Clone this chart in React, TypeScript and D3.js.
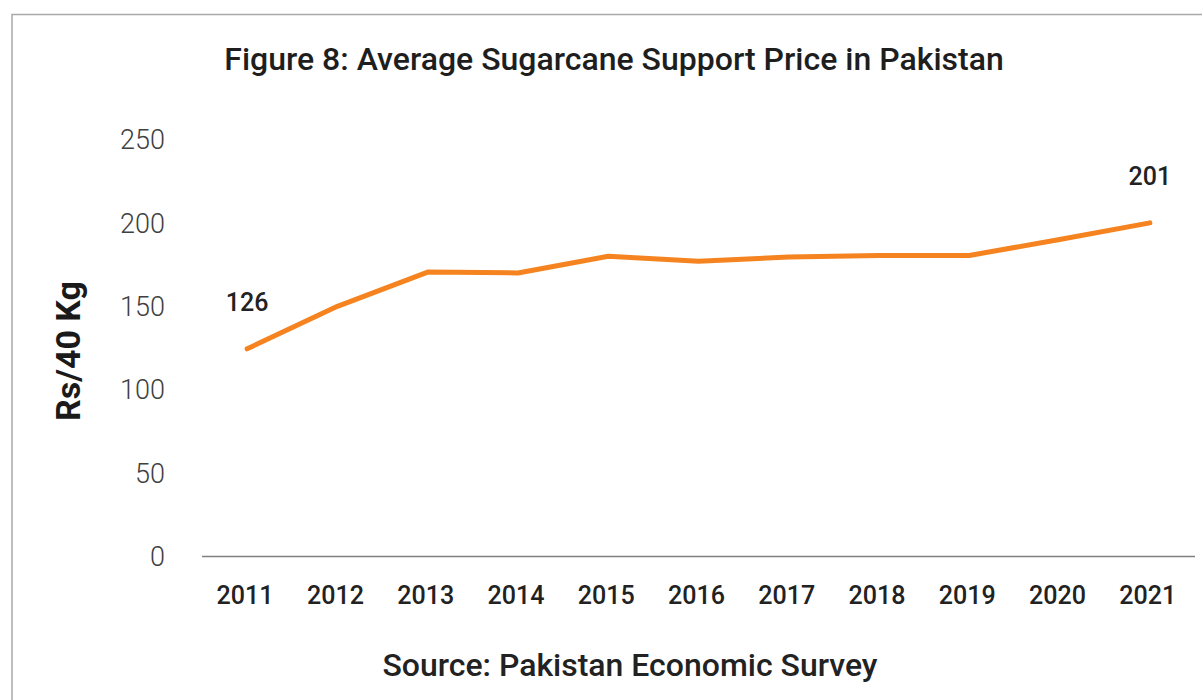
import React from "react";
import * as d3 from "d3";

const years = ["2011", "2012", "2013", "2014", "2015", "2016", "2017", "2018", "2019", "2020", "2021"];
const prices = [124.5, 150, 170.5, 170, 180, 177, 179.5, 180.5, 180.5, 190, 200];
const yTicks = [0, 50, 100, 150, 200, 250];
// only first and last point are labelled in the figure
const pointLabels = [
  { year: "2011", text: "126" },
  { year: "2021", text: "201" },
];

const W = 1202;
const H = 700;
const margin = { top: 139.5, right: 7, bottom: 144, left: 202 };
const font = "Roboto, 'Noto Sans', sans-serif";

export default function App() {
  const xScale = d3
    .scaleBand()
    .domain(years)
    .range([margin.left, W - margin.right]);

  const yScale = d3
    .scaleLinear()
    .domain([0, 250])
    .range([H - margin.bottom + 0.5, margin.top]);

  const cx = (y: string) => (xScale(y) as number) + xScale.bandwidth() / 2;

  const line = d3
    .line<number>()
    .x((d, i) => cx(years[i]))
    .y((d) => yScale(d));

  return (
    <svg
      width={W}
      height={H}
      style={{ position: "fixed", left: 0, top: 0, background: "#fff" }}
      fontFamily={font}
    >
      <rect x={12} y={14.5} width={W + 20} height={H + 20} fill="none" stroke="#a9a9a9" strokeWidth={1.5} />

      <text x={614} y={69.5} textAnchor="middle" fontSize={32} fontWeight={500} fill="#1e1e1e">
        Figure 8: Average Sugarcane Support Price in Pakistan
      </text>

      {/* y ticks */}
      <g>
        {yTicks.map((t) => (
          <text
            key={t}
            x={165}
            y={yScale(t)}
            dy="0.36em"
            textAnchor="end"
            fontSize={27}
            fontWeight={300}
            fill="#404040"
          >
            {t}
          </text>
        ))}
      </g>

      <text
        transform={`translate(80, 351) rotate(-90)`}
        textAnchor="middle"
        fontSize={34}
        fontWeight={700}
        fill="#1a1a1a"
      >
        Rs/40 Kg
      </text>

      {/* x axis */}
      <line
        x1={margin.left}
        x2={W - margin.right}
        y1={yScale(0)}
        y2={yScale(0)}
        stroke="#7f7f7f"
        strokeWidth={1.5}
      />
      <g>
        {years.map((y) => (
          <text
            key={y}
            x={cx(y) - 2}
            y={604}
            textAnchor="middle"
            fontSize={25}
            fontWeight={500}
            fill="#222"
            textLength={57}
            lengthAdjust="spacingAndGlyphs"
          >
            {y}
          </text>
        ))}
      </g>

      <path
        d={line(prices) || ""}
        fill="none"
        stroke="#f58420"
        strokeWidth={5}
        strokeLinecap="round"
        strokeLinejoin="round"
      />

      {pointLabels.map((p) => (
        <text
          key={p.year}
          x={cx(p.year)}
          y={yScale(prices[years.indexOf(p.year)]) - 38}
          textAnchor="middle"
          fontSize={25}
          fontWeight={500}
          fill="#222"
        >
          {p.text}
        </text>
      ))}

      <text
        x={630}
        y={676}
        textAnchor="middle"
        fontSize={31}
        fontWeight={500}
        fill="#222"
        textLength={495}
        lengthAdjust="spacingAndGlyphs"
      >
        Source: Pakistan Economic Survey
      </text>
    </svg>
  );
}
